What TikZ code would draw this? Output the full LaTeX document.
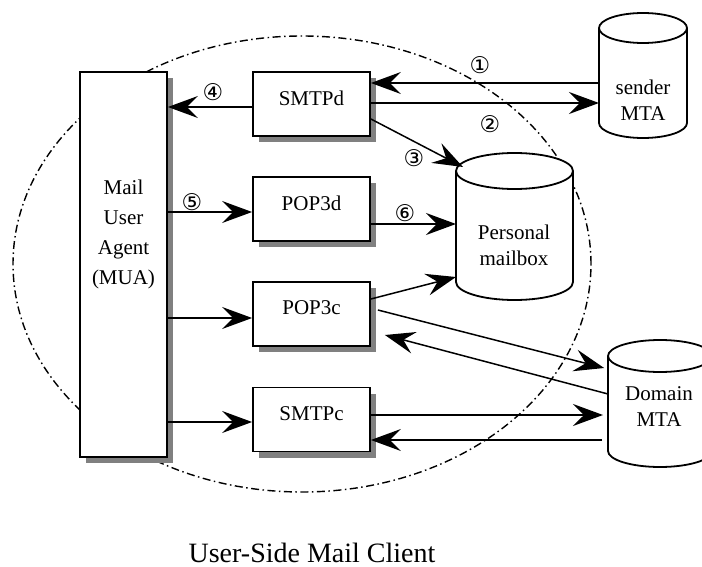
\documentclass[tikz,border=0pt]{standalone}
\usepackage{fontspec}
\setmainfont{Liberation Serif}
\newfontfamily\circfont{DejaVu Sans}
\usetikzlibrary{arrows.meta}
\usetikzlibrary{calc}
\usetikzlibrary{shadows}

\begin{document}
\begin{tikzpicture}[x=1pt, y=-1pt,
    box/.style={draw, fill=white, line width=1.8pt, inner sep=0pt, minimum width=117pt, minimum height=64pt, text depth=12pt, font=\fontsize{21}{26}\selectfont, drop shadow={shadow xshift=6pt, shadow yshift=-6pt, fill=gray, opacity=1}},
    drumbox/.style={inner sep=0pt, outer sep=0pt},
    drum/.style={draw, fill=white, line width=1.8pt},
    lbl/.style={align=center, font=\fontsize{21}{26}\selectfont},
    num/.style={font=\circfont\fontsize{23}{23}\selectfont},
    arr/.style={line width=1.5pt, -{Stealth[length=30pt, width=22pt, inset=11pt]}},
    client/.style={line width=1.4pt, dash pattern=on 8pt off 3.5pt on 1.5pt off 3.5pt}]
            \clip (0,0) rectangle (702,567);

            \draw[client] (302,264) ellipse [x radius=289pt, y radius=228pt];

            \node[box, minimum width=87pt, minimum height=385pt] (mua) at (123.5,264.5) {};
            \node[lbl, font=\fontsize{21}{30}\selectfont] (muatext) at (123.5,234) {Mail\\User\\Agent\\(MUA)};

            \foreach \n/\t/\y in {smtpd/SMTPd/104, pop3d/POP3d/209, pop3c/POP3c/314, smtpc/SMTPc/419.5} {
                \node[box] (\n) at (311.5,\y) {\t};
            }

            \node[drumbox, minimum width=88pt, minimum height=125pt] (sender) at (643,75.5) {};
            \node[drumbox, minimum width=117pt, minimum height=147pt] (mbox) at (514.5,226.5) {};
            \node[drumbox, minimum width=104pt, minimum height=127pt] (domain) at (660,403.5) {};
            \foreach \d/\r in {sender/15, mbox/18, domain/16} {
                \path[drum] let \p1=(\d.north west), \p2=(\d.south east), \n1={0.5*(\x2-\x1)} in
                    (\x1,\y1-\r pt) -- (\x1,\y2+\r pt) arc[start angle=180, end angle=360, x radius=\n1, y radius=\r pt]
                    -- (\x2,\y1-\r pt) arc[start angle=0, end angle=180, x radius=\n1, y radius=\r pt] -- cycle
                    (\x1,\y1-\r pt) arc[start angle=180, end angle=360, x radius=\n1, y radius=\r pt];
            }
            \node[lbl] (sendertext) at (643,100) {sender\\MTA};
            \node[lbl] (mboxtext) at (514,245) {Personal\\mailbox};
            \node[lbl] (domaintext) at (659,407) {Domain\\MTA};

            \draw[arr] (sender.west |- 0,83) -- (smtpd.east |- 0,83);
            \draw[arr] (smtpd.east |- 0,103) -- (sender.west |- 0,103);
            \draw[arr] (smtpd.east |- 0,119) -- ($(mbox.north west)+(7,14)$);
            \draw[arr] (smtpd.west |- 0,107) -- (mua.east |- 0,107);
            \draw[arr] (mua.east |- 0,212) -- (pop3d.west |- 0,212);
            \draw[arr] (pop3d.east |- 0,224) -- (mbox.west |- 0,224);
            \draw[arr] (mua.east |- 0,318) -- (pop3c.west |- 0,318);
            \draw[arr] (pop3c.east |- 0,299) -- (mbox.west |- 0,277);
            \draw[arr, shorten >=4pt] ($(pop3c.east)+(7,-4)$) -- (domain.west |- 0,369);
            \draw[arr] (domain.west |- 0,394) -- ($(pop3c.east)+(14,21)$);
            \draw[arr] (mua.east |- 0,422) -- (smtpc.west |- 0,422);
            \draw[arr, shorten >=5pt] (smtpc.east |- 0,415) -- (domain.west |- 0,415);
            \draw[arr, shorten <=6pt] (domain.west |- 0,440) -- (smtpc.east |- 0,440);

            \node[num] (n1) at (480,65) {①};
            \node[num] (n2) at (490,124) {②};
            \node[num] (n3) at (414,158) {③};
            \node[num] (n4) at (213,92) {④};
            \node[num] (n5) at (192,202) {⑤};
            \node[num] (n6) at (405,213) {⑥};

            \node[anchor=base, font=\fontsize{28}{34}\selectfont] (caption) at (312,562) {User-Side Mail Client};
        \end{tikzpicture}
\end{document}
